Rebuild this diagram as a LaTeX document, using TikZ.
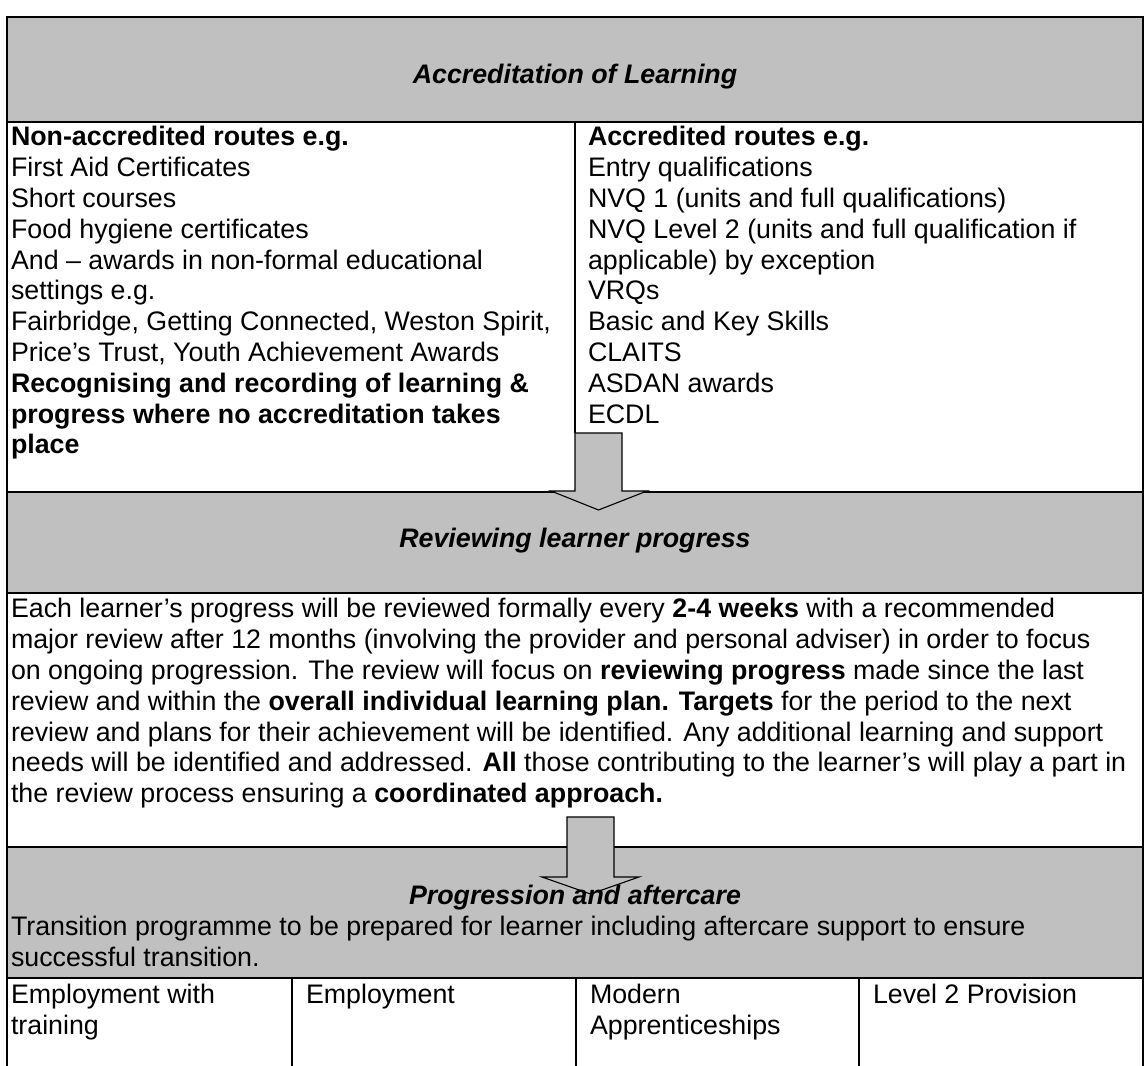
\documentclass[tikz,border=0pt]{standalone}
\usepackage{fontspec}
\setmainfont{Liberation Sans}
\definecolor{hdrgray}{HTML}{C0C0C0}
\begin{document}
\begin{tikzpicture}[x=0.448pt,y=-0.448pt,
  every node/.style={inner sep=0pt, outer sep=0pt, font=\fontsize{12}{13.8}\selectfont},
  celltext/.style={anchor=base west, align=left},
  headtext/.style={anchor=base, font=\fontsize{12}{13.8}\selectfont\bfseries\itshape},
  rule/.style={line width=0.8pt},
  thinrule/.style={line width=0.6pt},
  thickrule/.style={line width=1.3pt},
  bigarrow/.style={fill=hdrgray, draw=black, line width=0.5pt, line join=miter},
]
\useasboundingbox (0,0) rectangle (1144,1066);
% grey header bands
\fill[hdrgray] (7,17) rectangle (1143,122);
\fill[hdrgray] (7,492) rectangle (1143,593);
\fill[hdrgray] (7,847) rectangle (1143,978);
% table rules
\draw[rule] (7,17) -- (7,1066);
\draw[rule] (1143,17) -- (1143,1066);
\draw[thinrule] (7,492) -- (1143,492);
\draw[rule] (7,593) -- (1143,593);
\draw[rule] (7,847) -- (1143,847);
\draw[rule] (7,978) -- (1143,978);
\draw[thickrule] (6,17) -- (1144,17);
\draw[thickrule] (7,122) -- (1143,122);
\draw[rule] (575,122) -- (575,433);
\draw[rule] (292,978) -- (292,1066);
\draw[rule] (576,978) -- (576,1066);
\draw[rule] (859,978) -- (859,1066);
% block arrows
\draw[bigarrow] (575,433) -- (622,433) -- (622,491) -- (647,491) -- (598.5,510) -- (551,491) -- (575,491) -- cycle;
\draw[bigarrow] (567,817) -- (614,817) -- (614,877) -- (639,877) -- (590.5,894) -- (542,877) -- (567,877) -- cycle;
% texts (anchor = baseline of the last line)
\node[headtext] (hdrA) at (575,84) {Accreditation of Learning};
\node[celltext] (leftcol) at (11,454) {\textbf{Non-accredited routes e.g.}\\
First Aid Certificates\\
Short courses\\
Food hygiene certificates\\
And – awards in non-formal educational\\
settings e.g.\\
Fairbridge, Getting Connected, Weston Spirit,\\
Price’s Trust, Youth Achievement Awards\\
\textbf{Recognising and recording of learning \&}\\
\textbf{progress where no accreditation takes}\\
\textbf{place}};
\node[celltext] (rightcol) at (588,423.2) {\textbf{Accredited routes e.g.}\\
Entry qualifications\\
NVQ 1 (units and full qualifications)\\
NVQ Level 2 (units and full qualification if\\
applicable) by exception\\
VRQs\\
Basic and Key Skills\\
CLAITS\\
ASDAN awards\\
ECDL};
\node[headtext] (hdrB) at (575,548) {Reviewing learner progress};
\node[celltext] (para) at (11,802.8) {Each learner’s progress will be reviewed formally every \textbf{2-4 weeks} with a recommended\\
major review after 12 months (involving the provider and personal adviser) in order to focus\\
on ongoing progression. The review will focus on \textbf{reviewing progress} made since the last\\
review and within the \textbf{overall individual learning plan. Targets} for the period to the next\\
review and plans for their achievement will be identified. Any additional learning and support\\
needs will be identified and addressed. \textbf{All} those contributing to the learner’s will play a part in\\
the review process ensuring a \textbf{coordinated approach.}};
\node[headtext] (hdrC) at (575,905) {Progression and aftercare};
\node[celltext] (trans) at (11,966.8) {Transition programme to be prepared for learner including aftercare support to ensure\\
successful transition.};
\node[celltext] (colA) at (11,1034.8) {Employment with\\training};
\node[celltext] (colB) at (306,1004) {Employment};
\node[celltext] (colC) at (590,1034.8) {Modern\\Apprenticeships};
\node[celltext] (colD) at (873,1004) {Level 2 Provision};
\end{tikzpicture}
\end{document}
